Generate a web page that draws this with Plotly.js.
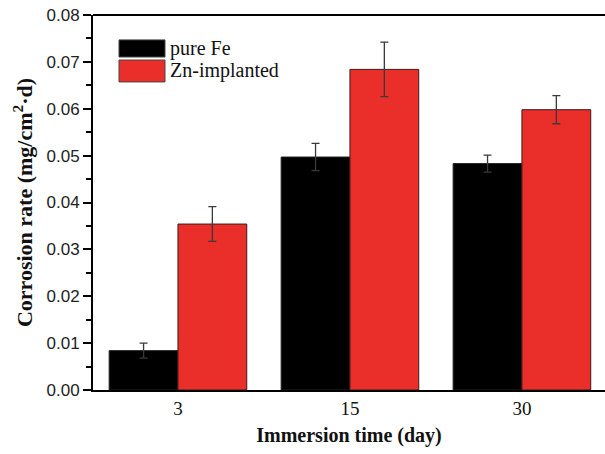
<!DOCTYPE html>
<html>
<head>
<meta charset="utf-8">
<script src="https://cdn.plot.ly/plotly-3.0.1.min.js"></script>
<style>html,body{margin:0;padding:0;background:#fff;}#chart{width:605px;height:454px;}</style>
</head>
<body>
<div id="chart"></div>
<script>
var categories = ['3', '15', '30'];
var pureFe = [0.0084, 0.0497, 0.0483];
var pureFeErr = [0.0016, 0.0029, 0.0018];
var znImplanted = [0.0354, 0.0684, 0.0598];
var znImplantedErr = [0.0037, 0.0058, 0.0030];
var seriesNames = ['pure Fe', 'Zn-implanted'];
var yTickVals = [0, 0.01, 0.02, 0.03, 0.04, 0.05, 0.06, 0.07, 0.08];
var yTickText = ['0.00', '0.01', '0.02', '0.03', '0.04', '0.05', '0.06', '0.07', '0.08'];

var colors = ['#000000', '#ea2e29'];
var serif = '"Liberation Serif", "Times New Roman", serif';
var sans = '"Liberation Sans", Arial, sans-serif';

var traces = [
  {
    type: 'bar', name: seriesNames[0], x: categories, y: pureFe,
    marker: {color: colors[0], line: {color: '#222', width: 1}},
    error_y: {type: 'data', array: pureFeErr, visible: true, color: '#3a3a3a', thickness: 1.3, width: 4},
    showlegend: false
  },
  {
    type: 'bar', name: seriesNames[1], x: categories, y: znImplanted,
    marker: {color: colors[1], line: {color: '#3a1a1a', width: 1}},
    error_y: {type: 'data', array: znImplantedErr, visible: true, color: '#3a3a3a', thickness: 1.3, width: 4},
    showlegend: false
  }
];

var legX0 = 0.0508, legX1 = 0.1406;
var legRows = [[0.888, 0.9336], [0.8215, 0.880]];
var shapes = [
  {type: 'line', xref: 'paper', yref: 'paper', x0: 0, x1: 1.01, y0: 1, y1: 1, line: {color: '#000', width: 2}}
];
var annotations = [];
for (var i = 0; i < seriesNames.length; i++) {
  shapes.push({type: 'rect', xref: 'paper', yref: 'paper', x0: legX0, x1: legX1,
    y0: legRows[i][0], y1: legRows[i][1], fillcolor: colors[i], line: {color: '#444', width: 1}});
  annotations.push({xref: 'paper', yref: 'paper', x: legX1 + 0.006, y: (legRows[i][0] + legRows[i][1]) / 2,
    xanchor: 'left', yanchor: 'middle', showarrow: false, text: seriesNames[i],
    font: {family: serif, size: 20, color: '#111'}});
}

var layout = {
  width: 605, height: 454,
  margin: {l: 93, r: 0, t: 15, b: 64},
  paper_bgcolor: '#fff', plot_bgcolor: '#fff',
  barmode: 'group', bargap: 0.2, bargroupgap: 0,
  showlegend: false,
  xaxis: {
    type: 'category', range: [-0.494, 2.483],
    showline: true, linecolor: '#000', linewidth: 2, mirror: false,
    ticks: '', showgrid: false, zeroline: false,
    tickfont: {family: serif, size: 19, color: '#111'},
    title: {text: '<b>Immersion time (day)</b>', font: {family: serif, size: 20, color: '#111'}, standoff: 10}
  },
  yaxis: {
    range: [0, 0.08], tickvals: yTickVals, ticktext: yTickText,
    showline: true, linecolor: '#000', linewidth: 2, mirror: false,
    ticks: 'outside', ticklen: 8, tickwidth: 2, tickcolor: '#000',
    minor: {dtick: 0.005, ticks: 'outside', ticklen: 5, tickwidth: 2, tickcolor: '#000', showgrid: false},
    showgrid: false, zeroline: false,
    tickfont: {family: sans, size: 17, color: '#222'},
    title: {text: '<b>Corrosion rate (mg/cm<sup>2</sup>·d)</b>', font: {family: serif, size: 22, color: '#111'}, standoff: 8}
  },
  shapes: shapes,
  annotations: annotations
};

Plotly.newPlot('chart', traces, layout, {displayModeBar: false, staticPlot: true});
</script>
</body>
</html>
